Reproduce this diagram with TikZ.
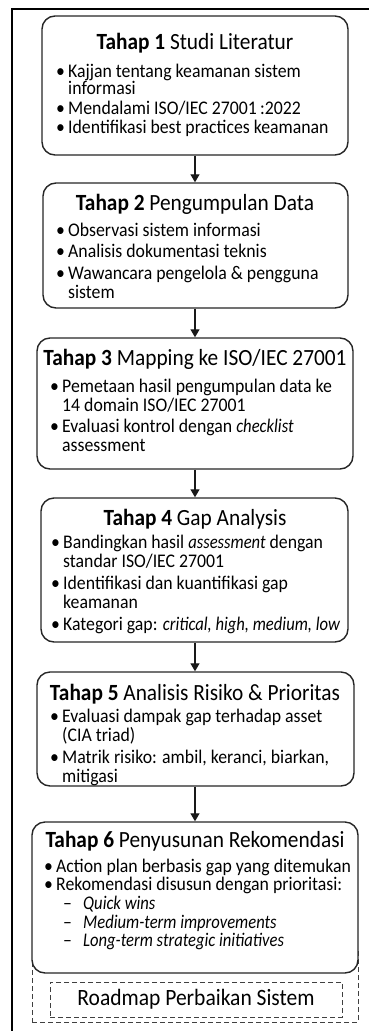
\documentclass[tikz,border=0pt]{standalone}
\usepackage{fontspec}
\setmainfont{Carlito}[FakeStretch=0.92,ItalicFeatures={FakeStretch=0.86},BoldItalicFeatures={FakeStretch=0.86}]
\usetikzlibrary{arrows.meta}
\newcommand\li[1]{\hbox{\makebox[12pt][l]{\textbullet}#1}}
\newcommand\lc[1]{\hbox{\hspace*{12pt}#1}}
\newcommand\ld[1]{\hbox{\hspace*{19pt}\makebox[20pt][l]{--}\textit{#1}}}
\newcommand\gp{\vskip3pt}
\begin{document}
\begin{tikzpicture}[x=1pt,y=-1pt,
  stagebox/.style={draw=black!85, line width=1.4pt, rounded corners=13pt, fill=white, inner sep=0pt},
  ttl/.style={inner sep=0pt, anchor=base, font=\fontsize{23.2}{26}\selectfont},
  lst/.style={inner sep=0pt, anchor=base west, font=\fontsize{19.3}{19}\selectfont},
  flow/.style={-{Triangle[width=9pt,length=8pt]}, line width=1.2pt, draw=black!90},
  grpbox/.style={draw=black!75, line width=1pt, dash pattern=on 5pt off 3pt, inner sep=0pt},
]
\useasboundingbox (0,0) rectangle (369,1031);
\begin{scope}
\clip (0,0) rectangle (369,1031);
\draw[line width=2pt] (12,1040) -- (12,9) -- (380,9) -- (380,1040);
\end{scope}
% group dashed box behind stage 6
\node[grpbox, minimum width=326pt, minimum height=72pt] (grp) at (195,986) {};
% stages
\node[stagebox, minimum width=306pt, minimum height=139pt] (b1) at (195,85.5) {};
\node[stagebox, minimum width=305pt, minimum height=125pt] (b2) at (195.5,245.5) {};
\node[stagebox, minimum width=316pt, minimum height=131pt] (b3) at (195,403.5) {};
\node[stagebox, minimum width=307pt, minimum height=144pt] (b4) at (194.5,570) {};
\node[stagebox, minimum width=317pt, minimum height=114pt] (b5) at (195.5,729) {};
\node[stagebox, minimum width=326pt, minimum height=151pt] (b6) at (195,897.5) {};
\node[grpbox, minimum width=292pt, minimum height=35pt, font=\fontsize{23.4}{26}\selectfont] (rm) at (196,999.5) {Roadmap Perbaikan Sistem};
% titles
\node[ttl] (h1) at (195,49) {\textbf{Tahap 1} Studi Literatur};
\node[ttl] (h2) at (195,210) {\textbf{Tahap 2} Pengumpulan Data};
\node[ttl] (h3) at (195,365) {\textbf{Tahap 3} Mapping ke ISO/IEC 27001};
\node[ttl] (h4) at (195,525) {\textbf{Tahap 4} Gap Analysis};
\node[ttl] (h5) at (195,700) {\textbf{Tahap 5} Analisis Risiko \& Prioritas};
\node[ttl] (h6) at (195,847) {\textbf{Tahap 6} Penyusunan Rekomendasi};
% lists
\node[lst, font=\fontsize{19.3}{16}\selectfont] (l1) at (56,77) {\vtop{\li{Kajjan tentang keamanan sistem}\lc{informasi}\vskip3.5pt
  \li{Mendalami ISO/IEC 27001\thinspace:2022}\vskip3.5pt\li{Identifikasi best practices keamanan}}};
\node[lst] (l2) at (56,236) {\vtop{\li{Observasi sistem informasi}\vskip2.5pt\li{Analisis dokumentasi teknis}\vskip2.5pt
  \li{Wawancara pengelola \& pengguna}\lc{sistem}}};
\node[lst] (l3) at (50,392) {\vtop{\li{Pemetaan hasil pengumpulan data ke}\lc{14 domain ISO/IEC 27001}\vskip2.5pt
  \li{Evaluasi kontrol dengan \textit{checklist}}\lc{assessment}}};
\node[lst] (l4) at (51,548) {\vtop{\li{Bandingkan hasil \textit{assessment} dengan}\lc{standar ISO/IEC 27001}\gp
  \li{Identifikasi dan kuantifikasi gap}\lc{keamanan}\gp\li{Kategori gap: \textit{critical, high, medium, low}}}};
\node[lst] (l5) at (50,722) {\vtop{\li{Evaluasi dampak gap terhadap asset}\lc{(CIA triad)}\gp
  \li{Matrik risiko: ambil, keranci, biarkan,}\lc{mitigasi}}};
\node[lst, font=\fontsize{19.3}{18.7}\selectfont] (l6) at (44,872) {\vtop{\li{Action plan berbasis gap yang ditemukan}\li{Rekomendasi disusun dengan prioritasi:}
  \ld{Quick wins}\ld{Medium-term improvements}\ld{Long-term strategic initiatives}}};
% connectors
\draw[flow] (b1.south -| 195,0) -- (b2.north -| 195,0);
\draw[flow] (b2.south -| 195,0) -- (b3.north -| 195,0);
\draw[flow] (b3.south -| 195,0) -- (b4.north -| 195,0);
\draw[flow] (b4.south -| 195,0) -- (b5.north -| 195,0);
\draw[flow] (b5.south -| 195,0) -- (b6.north -| 195,0);
\end{tikzpicture}
\end{document}
